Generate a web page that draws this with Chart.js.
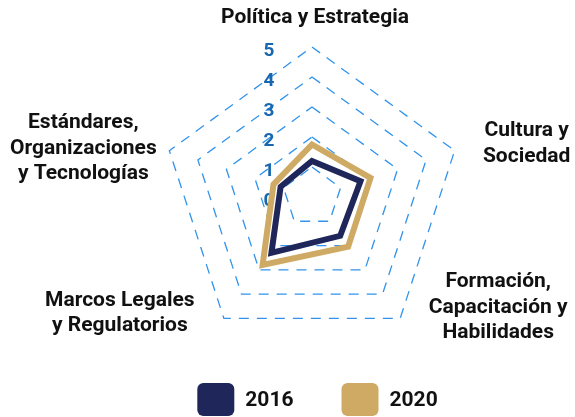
<!DOCTYPE html>
<html>
<head>
<meta charset="utf-8">
<script src="https://cdn.jsdelivr.net/npm/chart.js@4"></script>
<style>
body { margin: 0; background: #fff; }
#wrap { width: 575px; height: 417px; position: relative; }
</style>
</head>
<body>
<div id="wrap"><canvas id="graf-radar"></canvas></div>
<script>
const categorias = [
    ['Política y Estrategia'],
    ['Cultura y', 'Sociedad'],
    ['Formación,', 'Capacitación y', 'Habilidades'],
    ['Marcos Legales', 'y Regulatorios'],
    ['Estándares,', 'Organizaciones', 'y Tecnologías']
];
const anios = ['2016', '2020'];
const valores2016 = [1.2, 1.7, 1.6, 2.3, 1.1];
const valores2020 = [1.75, 2.05, 2.05, 2.8, 1.35];
const escalaMin = 0;
const escalaMax = 5;

const azul = '#1f275a';
const dorado = '#ceaa64';

// desplazamiento del centro de cada etiqueta respecto al vertice exterior
const desvEtiquetas = [[3, -29], [72, -7], [98, -11], [-104, -5], [-86, -2]];

const textos = {
    id: 'textos',
    beforeDatasetsDraw(chart) {
        const ctx = chart.ctx;
        const r = chart.scales.r;
        ctx.save();
        ctx.font = 'bold 19px Roboto';
        ctx.fillStyle = '#1767b0';
        ctx.textAlign = 'center';
        ctx.textBaseline = 'middle';
        r.ticks.forEach(t => {
            const d = r.getDistanceFromCenterForValue(t.value);
            ctx.fillText(t.label, r.xCenter - 43, r.yCenter - d + 4);
        });
        ctx.restore();
    },
    afterDraw(chart) {
        const ctx = chart.ctx;
        const r = chart.scales.r;
        ctx.save();
        // etiquetas de cada eje
        ctx.font = 'bold 21px Roboto';
        ctx.fillStyle = '#111';
        ctx.textAlign = 'center';
        ctx.textBaseline = 'middle';
        const lh = 25.5;
        chart.data.labels.forEach((lab, i) => {
            const p = r.getPointPosition(i, r.drawingArea);
            const cx = p.x + desvEtiquetas[i][0];
            const cy = p.y + desvEtiquetas[i][1];
            lab.forEach((linea, j) => {
                ctx.fillText(linea, cx, cy + (j - (lab.length - 1) / 2) * lh);
            });
        });
        // leyenda
        ctx.font = 'bold 21px Roboto';
        const caja = 37, alto = 33, hueco = 11, sep = 48;
        const items = chart.data.datasets.map(d => ({
            text: d.label,
            color: d.borderColor,
            w: caja + hueco + ctx.measureText(d.label).width
        }));
        const total = items.reduce((s, it) => s + it.w, 0) + sep * (items.length - 1);
        let x = 317.5 - total / 2;
        const y = 383;
        ctx.textAlign = 'left';
        items.forEach(it => {
            ctx.fillStyle = it.color;
            ctx.beginPath();
            ctx.roundRect(x, y, caja, alto, 6);
            ctx.fill();
            ctx.fillStyle = '#111';
            ctx.fillText(it.text, x + caja + hueco, y + alto / 2 + 1);
            x += it.w + sep;
        });
        ctx.restore();
    }
};

ctx = document.getElementById('graf-radar').getContext('2d');

grafico = new Chart(ctx, {
    type: 'radar',
    data: {
        labels: categorias,
        datasets: [{
            label: anios[0],
            data: valores2016,
            borderColor: azul,
            backgroundColor: azul,
            borderWidth: 6,
            pointRadius: 0,
            fill: false
        },
        {
            label: anios[1],
            data: valores2020,
            borderColor: dorado,
            backgroundColor: dorado,
            borderWidth: 6,
            pointRadius: 0,
            fill: false
        }]
    },
    options: {
        responsive: true,
        maintainAspectRatio: false,
        animation: false,
        layout: {
            padding: { top: 47, bottom: 70, left: 100, right: 51 }
        },
        plugins: {
            legend: { display: false },
            tooltip: { enabled: false }
        },
        elements: {
            line: { tension: 0, borderJoinStyle: 'miter' }
        },
        scales: {
            r: {
                min: escalaMin,
                max: escalaMax,
                ticks: { stepSize: 1, display: false },
                angleLines: { display: false },
                pointLabels: { display: false },
                grid: { color: '#3193ec', lineWidth: 1.3 },
                border: { dash: [10, 8] }
            }
        }
    },
    plugins: [textos]
});
</script>
</body>
</html>
